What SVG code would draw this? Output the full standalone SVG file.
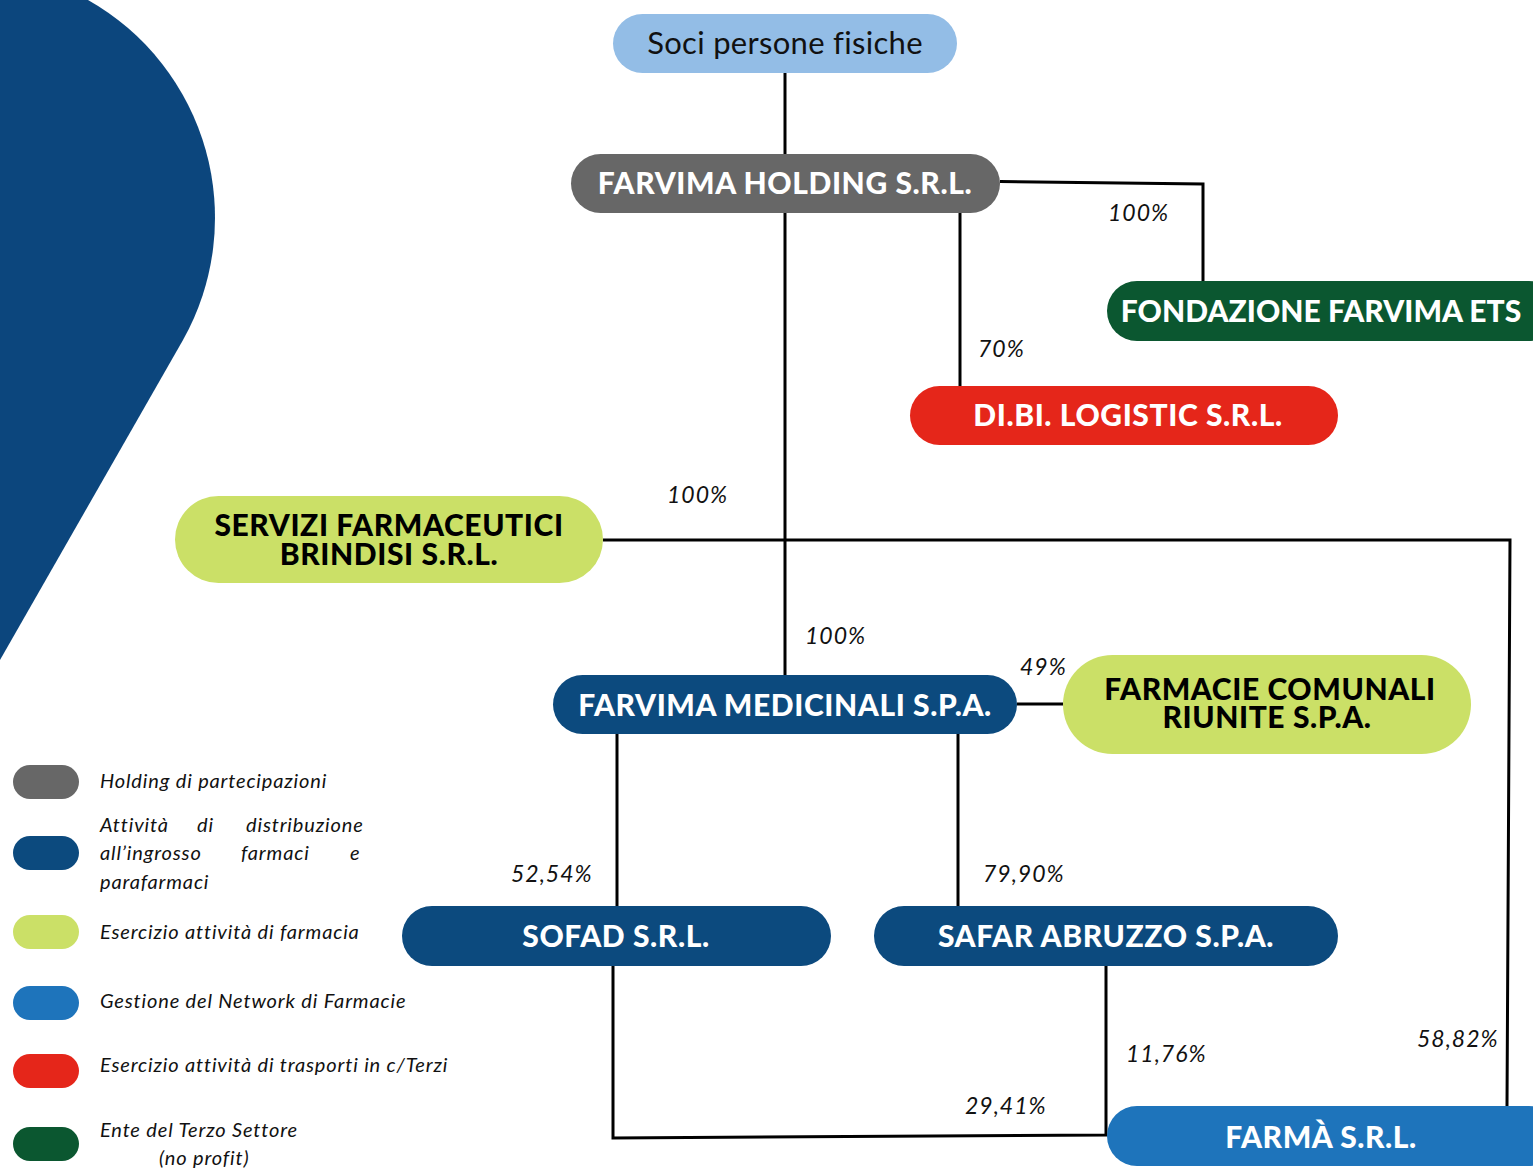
<svg xmlns="http://www.w3.org/2000/svg" width="1533" height="1169" viewBox="0 0 1533 1169">
<style>
.t{font-family:Lato,"Noto Sans",sans-serif;font-weight:900;font-size:30px;letter-spacing:0.6px;fill:#fff;text-anchor:middle}
.tk{fill:#000}
.p{font-family:Lato,"Noto Sans",sans-serif;font-style:italic;font-size:23px;letter-spacing:1px;fill:#111}
.lg{font-family:Lato,"Noto Sans",sans-serif;font-style:italic;font-size:20px;letter-spacing:0.85px;fill:#111}
.c{fill:none;stroke:#000;stroke-width:3}
.gray{fill:#676767}.navy{fill:#0c4a7e}.lime{fill:#cbe067}.blue{fill:#1e74bb}.red{fill:#e5261a}.green{fill:#0b5730}.sky{fill:#93bde6}
</style>
<rect width="1533" height="1169" fill="#fff"/>
<path d="M0,0 L88,0 A250,250 0 0 1 183,340 L0,660 Z" fill="#0c467d"/>

<g id="connectors">
<path class="c" d="M785,73 V154"/>
<path class="c" d="M1000,181.5 L1203,184 V281"/>
<path class="c" d="M960,213 V386"/>
<path class="c" d="M785,213 V675"/>
<path class="c" d="M603,540 H1510 L1507,1106"/>
<path class="c" d="M1017,704 H1063"/>
<path class="c" d="M617,734 V906"/>
<path class="c" d="M958,734 V906"/>
<path class="c" d="M613,966 V1138 L1106,1135 V966"/>
</g>

<g id="labels">
<text class="p" x="1108" y="221">100%</text>
<text class="p" x="978" y="357">70%</text>
<text class="p" x="667" y="503">100%</text>
<text class="p" x="805" y="644">100%</text>
<text class="p" x="1020" y="675">49%</text>
<text class="p" x="511" y="882">52,54%</text>
<text class="p" x="983" y="882">79,90%</text>
<text class="p" x="1126" y="1062">11,76%</text>
<text class="p" x="1417" y="1047">58,82%</text>
<text class="p" x="965" y="1114">29,41%</text>
</g>

<g id="soci">
<rect class="sky" x="613" y="14" width="344" height="59" rx="29.5"/>
<text x="785" y="54" style="font-family:Lato,'Noto Sans',sans-serif;font-size:31px;letter-spacing:0.3px;fill:#111;text-anchor:middle">Soci persone fisiche</text>
</g>
<g id="holding">
<rect class="gray" x="571" y="154" width="429" height="59" rx="29.5"/>
<text class="t" x="785" y="194">FARVIMA HOLDING S.R.L.</text>
</g>
<g id="fondazione">
<rect class="green" x="1107" y="281" width="452" height="60" rx="30"/>
<text class="t" x="1321" y="322" style="letter-spacing:0.05px">FONDAZIONE FARVIMA ETS</text>
</g>
<g id="dibi">
<rect class="red" x="910" y="386" width="428" height="59" rx="29.5"/>
<text class="t" x="1128" y="426">DI.BI. LOGISTIC S.R.L.</text>
</g>
<g id="servizi">
<rect class="lime" x="175" y="496" width="428" height="87" rx="43.5"/>
<text class="t tk"><tspan x="389" y="536">SERVIZI FARMACEUTICI</tspan><tspan x="389" y="565">BRINDISI S.R.L.</tspan></text>
</g>
<g id="medicinali">
<rect class="navy" x="553" y="675" width="464" height="59" rx="29.5"/>
<text class="t" x="785" y="716">FARVIMA MEDICINALI S.P.A.</text>
</g>
<g id="comunali">
<rect class="lime" x="1063" y="655" width="408" height="99" rx="49.5"/>
<text class="t tk"><tspan x="1270" y="700">FARMACIE COMUNALI</tspan><tspan x="1267" y="728">RIUNITE S.P.A.</tspan></text>
</g>
<g id="sofad">
<rect class="navy" x="402" y="906" width="429" height="60" rx="30"/>
<text class="t" x="616" y="947">SOFAD S.R.L.</text>
</g>
<g id="safar">
<rect class="navy" x="874" y="906" width="464" height="60" rx="30"/>
<text class="t" x="1106" y="947">SAFAR ABRUZZO S.P.A.</text>
</g>
<g id="farma">
<rect class="blue" x="1107" y="1106" width="452" height="60" rx="30"/>
<text class="t" x="1321" y="1148">FARMÀ S.R.L.</text>
</g>

<g id="legend">
<rect class="gray" x="13" y="765" width="66" height="34" rx="17"/>
<rect class="navy" x="13" y="836" width="66" height="34" rx="17"/>
<rect class="lime" x="13" y="915" width="66" height="34" rx="17"/>
<rect class="blue" x="13" y="986" width="66" height="34" rx="17"/>
<rect class="red" x="13" y="1054" width="66" height="34" rx="17"/>
<rect class="green" x="13" y="1127" width="66" height="34" rx="17"/>
<text class="lg" x="100" y="788">Holding di partecipazioni</text>
<text class="lg" y="832"><tspan x="100">Attività</tspan><tspan x="197">di</tspan><tspan x="246">distribuzione</tspan></text>
<text class="lg" y="860"><tspan x="100">all’ingrosso</tspan><tspan x="241">farmaci</tspan><tspan x="350">e</tspan></text>
<text class="lg" x="100" y="889">parafarmaci</text>
<text class="lg" x="100" y="939">Esercizio attività di farmacia</text>
<text class="lg" x="100" y="1008">Gestione del Network di Farmacie</text>
<text class="lg" x="100" y="1072">Esercizio attività di trasporti in c/Terzi</text>
<text class="lg" x="100" y="1137">Ente del Terzo Settore</text>
<text class="lg" x="159" y="1165">(no profit)</text>
</g>
</svg>
